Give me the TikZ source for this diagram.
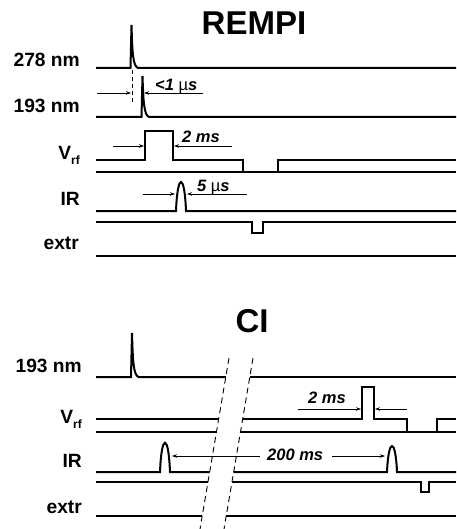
\documentclass[tikz,border=0pt]{standalone}
\usepackage{fontspec}
\setmainfont{Liberation Sans}
\usetikzlibrary{arrows.meta}
\begin{document}
\begin{tikzpicture}[x=1pt,y=-1pt,
 sig/.style={line width=2pt, line join=miter},
 sec/.style={line width=1.2pt, line join=miter},
 dim/.style={line width=0.7pt,-{Stealth[length=5pt,width=3.5pt]}},
 lab/.style={anchor=base east, inner sep=0pt, font=\fontsize{19.2}{19.2}\selectfont\bfseries},
 ttl/.style={anchor=base, inner sep=0pt, font=\fontsize{33}{33}\selectfont\bfseries},
 ann/.style={anchor=base west, inner sep=0pt, font=\fontsize{16.5}{16.5}\selectfont\bfseries\itshape},
 brk/.style={line width=0.9pt, dash pattern=on 6pt off 4pt},
 vdash/.style={line width=0.9pt, dash pattern=on 4pt off 3pt}]
\useasboundingbox (0,0) rectangle (456,529);
\newcommand{\mysub}{\raisebox{-5pt}{\fontsize{12}{12}\selectfont rf}}
\newcommand{\mymu}{{\mdseries\upshape µ}}
% titles
\node[ttl] (t1) at (254,35) {REMPI};
\node[ttl] (t2) at (252,332) {CI};
% REMPI labels
\node[lab] (l278) at (80,67) {278 nm};
\node[lab] (l193) at (80,113) {193 nm};
\node[lab] (lvrf) at (80,160) {V\mysub};
\node[lab] (lir) at (80,205) {IR};
\node[lab] (lext) at (79,249) {extr};
% REMPI traces
\draw[sig] (96,68) -- (130.5,68) -- (131.5,25) .. controls (132.3,52) and (132.8,66) .. (138,68) -- (456,68);
\draw[sig] (96,117) -- (141.5,117) -- (142.5,76) .. controls (143.3,100) and (143.8,115) .. (149,117) -- (456,117);
\draw[vdash] (132,70) -- (132,104);
\draw[dim] (97,93) -- (131,93);
\draw[dim] (203,93) -- (144,93);
\node[ann] (a1) at (155,91) {<1 \mymu s};
\draw[sig] (96,160) -- (145,160) -- (145,131) -- (173,131) -- (173,160) -- (243,160) -- (243,172) -- (278,172) -- (278,160) -- (456,160);
\draw[sec] (96,172) -- (456,172);
\draw[dim] (113,146) -- (144,146);
\draw[dim] (232,146) -- (174,146);
\node[ann] (a2) at (182,143) {2 ms};
\draw[sig] (96,211) -- (176,211) .. controls (177.5,172.3) and (184.5,172.3) .. (186,211) -- (456,211);
\draw[sec] (96,222) -- (252,222) -- (252,233) -- (263,233) -- (263,222) -- (456,222);
\draw[dim] (143,194) -- (175,194);
\draw[dim] (247,194) -- (187,194);
\node[ann] (a3) at (197,192) {5 \mymu s};
\draw[sec] (96,256) -- (456,256);
% CI labels
\node[lab] (c193) at (82,372) {193 nm};
\node[lab] (cvrf) at (82,423) {V\mysub};
\node[lab] (cir) at (82,467) {IR};
\node[lab] (cext) at (82,513) {extr};
% break lines
\coordinate (bL1) at (229,358); \coordinate (bL2) at (200,529);
\coordinate (bR1) at (253,358); \coordinate (bR2) at (224,529);
\draw[brk] (bL1) -- (bL2);
\draw[brk] (bR1) -- (bR2);
% CI traces
\draw[sig] (96,377) -- (131,377) -- (132,333) .. controls (132.8,360) and (133.3,375) .. (138.5,377) -- (225.8,377);
\draw[sig] (249.8,377) -- (456,377);
\draw[sig] (96,419) -- (218.7,419);
\draw[sig] (242.7,419) -- (362,419) -- (362,387) -- (374,387) -- (374,419) -- (407,419) -- (407,432) -- (437,432) -- (437,419) -- (456,419);
\draw[sec] (96,432) -- (216.5,432);
\draw[sec] (240.5,432) -- (456,432);
\draw[dim] (298,409) -- (361,409);
\draw[dim] (407,409) -- (375,409);
\node[ann] (a4) at (308,403) {2 ms};
\draw[sig] (96,472) -- (160,472) .. controls (161.5,433) and (168.5,433) .. (170,472) -- (209.7,472);
\draw[sig] (233.7,472) -- (387,472) .. controls (388.5,437.3) and (395.5,437.3) .. (397,472) -- (456,472);
\draw[sig] (96,482) -- (208,482);
\draw[sig] (232,482) -- (421,482) -- (421,492) -- (429,492) -- (429,482) -- (456,482);
\draw[dim] (260,456) -- (172,456);
\draw[dim] (332,456) -- (385,456);
\node[ann] (a5) at (267,460) {200 ms};
\draw[sec] (96,516) -- (202.2,516);
\draw[sec] (226.2,516) -- (456,516);
\end{tikzpicture}
\end{document}
